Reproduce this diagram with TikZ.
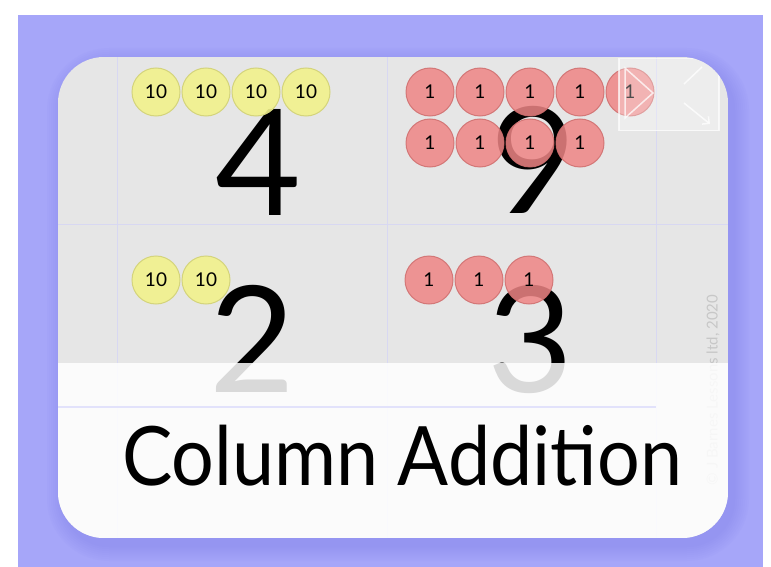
\documentclass[tikz,border=0pt]{standalone}
\usepackage{fontspec}
\usepackage{graphicx}
\setmainfont{Lato}
\usetikzlibrary{positioning, calc, arrows.meta}
\definecolor{backdrop}{HTML}{A6A6F9}
\definecolor{shadowblue}{HTML}{7C7CEC}
\definecolor{cardgrey}{HTML}{E6E6E6}
\definecolor{gridline}{HTML}{D8D8F2}
\definecolor{bandline}{HTML}{E2E2FB}
\definecolor{tenfill}{HTML}{F2F28C}
\definecolor{tenedge}{HTML}{D4D47C}
\definecolor{onefill}{HTML}{EF8585}
\definecolor{oneedge}{HTML}{CF6E6E}

\begin{document}
\begin{tikzpicture}[
        x=1pt, y=-1pt,
        node distance=1pt,
        tencoin/.style={circle, draw=tenedge, fill=tenfill, minimum size=48pt, inner sep=0pt, line width=1pt, fill opacity=0.9, text opacity=1, font=\fontsize{19}{20}\selectfont},
        onecoin/.style={circle, draw=oneedge, fill=onefill, minimum size=48pt, inner sep=0pt, line width=1pt, opacity=0.85, text opacity=1, font=\fontsize{19}{20}\selectfont},
        digit/.style={anchor=base, inner sep=0pt, font=\fontsize{148}{150}\selectfont},
        grid/.style={draw=gridline, line width=1pt}
    ]

    % Backdrop
    \fill[white] (0,0) rectangle (771,567);
    \useasboundingbox (0,0) rectangle (771,567);
    \fill[backdrop] (18,15) rectangle (763,567);
    \foreach \k in {2,4,...,16} {
        \fill[shadowblue, opacity=0.05, rounded corners=46pt+\k pt] (58-\k+5,57-\k+7) rectangle (728+\k+5,538+\k+7);
    }

    % Card
    \begin{scope}
    \clip[rounded corners=46pt] (58,57) rectangle (728,538);
    \fill[cardgrey] (58,57) rectangle (728,538);
    \draw[grid] (117,57) -- (117,538);
    \draw[grid] (387,57) -- (387,538);
    \draw[grid] (656,57) -- (656,538);
    \draw[grid] (58,224) -- (728,224);

    % Digits
    \node (tens1) [digit] at (258,215) {4};
    \node (ones1) [digit] at (533,213) {9};
    \node (tens2) [digit] at (252,392) {2};
    \node (ones2) [digit] at (530,392) {3};

    % Coins
    \node (tenA1) [tencoin] at (156,92) {10};
    \node (tenA2) [tencoin, right=of tenA1] {10};
    \node (tenA3) [tencoin, right=of tenA2] {10};
    \node (tenA4) [tencoin, right=of tenA3] {10};

    \node (oneA1) [onecoin] at (430,92) {1};
    \node (oneA2) [onecoin, right=of oneA1] {1};
    \node (oneA3) [onecoin, right=of oneA2] {1};
    \node (oneA4) [onecoin, right=of oneA3] {1};
    \node (oneA5) [onecoin, right=of oneA4] {1};
    \node (oneA6) [onecoin, below=2pt of oneA1] {1};
    \node (oneA7) [onecoin, right=of oneA6] {1};
    \node (oneA8) [onecoin, right=of oneA7] {1};
    \node (oneA9) [onecoin, right=of oneA8] {1};

    \node (tenB1) [tencoin] at (156,280) {10};
    \node (tenB2) [tencoin, right=of tenB1] {10};

    \node (oneB1) [onecoin] at (429,280) {1};
    \node (oneB2) [onecoin, right=of oneB1] {1};
    \node (oneB3) [onecoin, right=of oneB2] {1};

    \node (credit) [rotate=90, text=black!22, font=\fontsize{15}{16}\selectfont] at (713,390) {© J Barnes Lessons ltd, 2020};

    % Title band
    \fill[white, opacity=0.85] (58,363) rectangle (728,538);
    \draw[bandline, line width=2pt] (58,407) -- (656,407);
    \node (title) [anchor=base, font=\fontsize{82}{90}\selectfont] at (402,485) {\scalebox{0.92}[1]{Column Addition}};

    % Player icon
    \node (player) [anchor=north west, draw=white, fill=white, fill opacity=0.3, draw opacity=0.7, line width=1.5pt, minimum width=100pt, minimum height=72pt] at (618,58) {};
    \draw[white, opacity=0.75, line width=1.5pt] (625,68) -- (653,93) -- (625,118) -- cycle;
    \draw[white, opacity=0.75, line width=1.5pt] (684,84) -- (702,67);
    \draw[white, opacity=0.75, line width=1.5pt, -{Straight Barb[length=5pt]}] (684,103) -- (710,124);
    \end{scope}

\end{tikzpicture}
\end{document}
